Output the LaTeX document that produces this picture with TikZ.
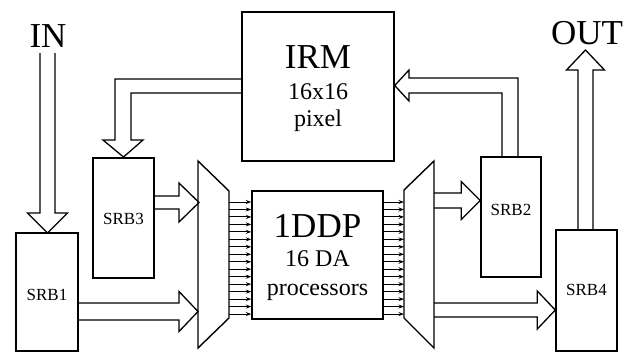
\documentclass[tikz,border=0pt]{standalone}
\usepackage{fontspec}
\setmainfont{Liberation Serif}
\usetikzlibrary{calc,arrows.meta}

% hollow block arrow pointing right: source anchor name, tip, half stem, half head, head length
\newcommand\fatRight[5]{%
  \coordinate (fa-t) at #2;
  \coordinate (fa-s) at (#1 |- fa-t);
  \draw[fat] ($(fa-s)+(0,-#3)$) -- ($(fa-t)+(-#5,-#3)$) -- ($(fa-t)+(-#5,-#4)$) -- (fa-t)
    -- ($(fa-t)+(-#5,#4)$) -- ($(fa-t)+(-#5,#3)$) -- ($(fa-s)+(0,#3)$);
}
% hollow block arrow pointing down (y axis grows downwards)
\newcommand\fatDown[5]{%
  \coordinate (fa-t) at #2;
  \coordinate (fa-s) at (fa-t |- #1);
  \draw[fat] ($(fa-s)+(-#3,0)$) -- ($(fa-t)+(-#3,-#5)$) -- ($(fa-t)+(-#4,-#5)$) -- (fa-t)
    -- ($(fa-t)+(#4,-#5)$) -- ($(fa-t)+(#3,-#5)$) -- ($(fa-s)+(#3,0)$);
}
% hollow block arrow pointing up
\newcommand\fatUp[5]{%
  \coordinate (fa-t) at #2;
  \coordinate (fa-s) at (fa-t |- #1);
  \draw[fat] ($(fa-s)+(-#3,0)$) -- ($(fa-t)+(-#3,#5)$) -- ($(fa-t)+(-#4,#5)$) -- (fa-t)
    -- ($(fa-t)+(#4,#5)$) -- ($(fa-t)+(#3,#5)$) -- ($(fa-s)+(#3,0)$);
}

\begin{document}
\begin{tikzpicture}[x=1pt,y=-1pt,
  line width=1.4pt,
  fat/.style={draw=black,line width=1.3pt,line join=miter},
  blk/.style={draw,line width=1.4pt,inner sep=0pt},
  big/.style={font=\fontsize{35}{35}\selectfont,anchor=base,inner sep=0pt},
  mid/.style={font=\fontsize{24}{24}\selectfont,anchor=base,inner sep=0pt},
  sml/.style={font=\fontsize{17}{17}\selectfont,anchor=base,inner sep=0pt},
  tiny/.style={line width=1pt,-{Stealth[length=5.5pt,width=4pt]}}]
\useasboundingbox (0,0) rectangle (631,354);

% blocks
\node[blk,minimum width=152pt,minimum height=149pt] (irm)  at (318,86.5) {};
\node[blk,minimum width=131pt,minimum height=128pt] (ddp)  at (317.5,255) {};
\node[blk,minimum width=62pt,minimum height=118pt]  (srb1) at (47,292) {};
\node[blk,minimum width=61pt,minimum height=120pt]  (srb3) at (123.5,218) {};
\node[blk,minimum width=60pt,minimum height=120pt]  (srb2) at (511,217) {};
\node[blk,minimum width=61pt,minimum height=121pt]  (srb4) at (586.5,290.5) {};

% multiplexer trapezoids
\coordinate (mla) at (198,161); \coordinate (mlb) at (229,191);
\coordinate (mlc) at (229,318); \coordinate (mld) at (198,348);
\coordinate (mra) at (434,161); \coordinate (mrb) at (404,190);
\coordinate (mrc) at (404,318); \coordinate (mrd) at (434,348);
\draw[line join=miter] (mla) -- (mlb) -- (mlc) -- (mld) -- cycle;
\draw[line join=miter] (mra) -- (mrb) -- (mrc) -- (mrd) -- cycle;

% texts
\node[big] (tin)  at (48,47) {IN};
\node[big] (tout) at (587,44) {OUT};
\node[big] (tirm) at (318,68) {IRM};
\node[mid] (tirm2) at (318,99) {16x16};
\node[mid] (tirm3) at (318,126) {pixel};
\node[big] (tddp) at (317.5,237) {1DDP};
\node[mid] (tddp2) at (317.5,266) {16 DA};
\node[mid] (tddp3) at (317.5,295) {processors};
\node[sml] (t1) at (srb1.center |- 0,300) {SRB1};
\node[sml] (t2) at (srb2.center |- 0,215) {SRB2};
\node[sml] (t3) at (srb3.center |- 0,224) {SRB3};
\node[sml] (t4) at (srb4.center |- 0,295) {SRB4};

% sixteen parallel lanes into and out of the processor array
\foreach \i in {0,...,15}{
  \draw[tiny] (mlb |- 0,{202+\i*7.47}) -- (ddp.west |- 0,{202+\i*7.47});
  \draw[tiny] (ddp.east |- 0,{202+\i*7.47}) -- (mrb |- 0,{202+\i*7.47});
}

% straight block arrows
\coordinate (inTail) at (47.5,53);
\fatDown{inTail}{(47.5,233)}{7.5}{20}{20}
\fatUp{srb4.north}{(585.5,50)}{7.5}{19}{20}
\fatRight{srb3.east}{(199,202.5)}{6.5}{19.5}{20}
\fatRight{srb1.east}{(198,311.5)}{8.5}{20}{19}
\fatRight{mra}{(srb2.west |- 0,200.5)}{7.5}{19}{19}
\fatRight{mra}{(srb4.west |- 0,310)}{7}{19}{18}

% bent block arrow: IRM to SRB3
\draw[fat] (irm.west |- 0,79) -- (115,79) -- (115,140) -- (103,140) -- (srb3.north |- 0,157)
  -- (143,140) -- (131,140) -- (131,93) -- (irm.west |- 0,93);
% bent block arrow: SRB2 to IRM
\draw[fat] (518,157) -- (518,78) -- (409,78) -- (409,70) -- (irm.east |- 0,85.5)
  -- (409,101) -- (409,93) -- (502,93) -- (502,157);
\end{tikzpicture}
\end{document}
